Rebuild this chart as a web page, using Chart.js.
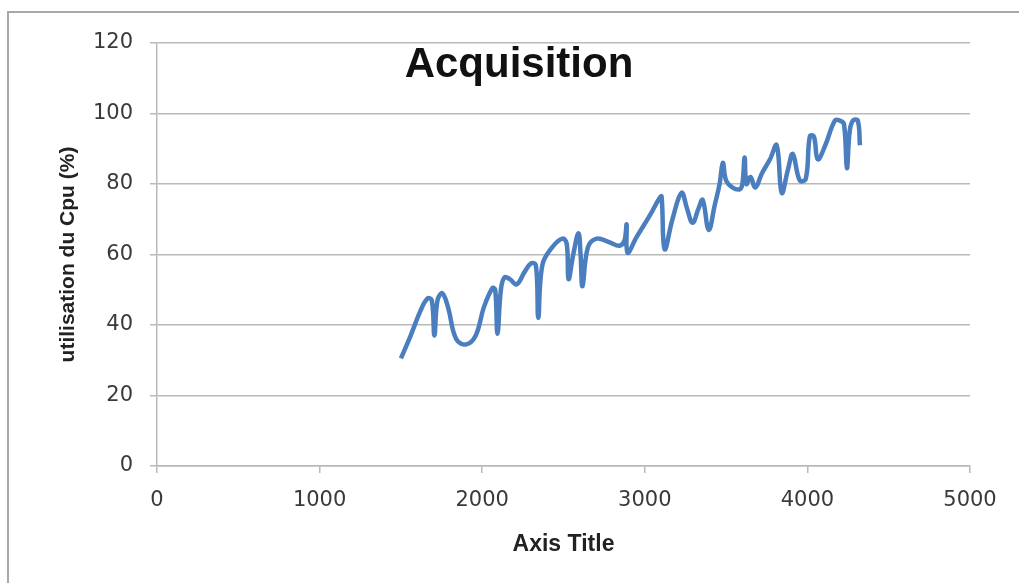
<!DOCTYPE html>
<html>
<head>
<meta charset="utf-8">
<script src="https://cdn.jsdelivr.net/npm/chart.js@4/dist/chart.umd.min.js"></script>
<style>
  html, body { margin: 0; padding: 0; background: #ffffff; overflow: hidden; width: 1019px; height: 583px; }
  #frame {
    position: absolute; left: 7px; top: 11px; width: 1100px; height: 700px;
    border-left: 2px solid #a8a8a8; border-top: 2px solid #a8a8a8;
    border-right: none; border-bottom: none;
    box-sizing: border-box; pointer-events: none;
  }
  #wrap { position: absolute; left: 0; top: 0; width: 1019px; height: 583px; overflow: hidden; }
</style>
</head>
<body>
<div id="wrap"><canvas id="cpu" width="1019" height="583"></canvas><div id="frame"></div></div>
<script>
// Elapsed time of the acquisition run and CPU load sampled at each step
const elapsed = [
  1500, 1560, 1620, 1663, 1690, 1706, 1725, 1755, 1790, 1840,
  1903, 1960, 2010, 2063, 2080, 2094, 2115, 2137, 2170, 2211,
  2260, 2300, 2330, 2345, 2370, 2430, 2494, 2520, 2531, 2560,
  2592, 2605, 2617, 2650, 2703, 2780, 2845, 2875, 2888, 2894,
  2950, 3030, 3090, 3103, 3122, 3170, 3226, 3260, 3294, 3330,
  3356, 3393, 3430, 3460, 3480, 3500, 3540, 3584, 3600, 3614,
  3625, 3650, 3680, 3720, 3770, 3811, 3842, 3880, 3910, 3953,
  3990, 4015, 4040, 4064, 4110, 4169, 4200, 4225, 4243, 4260,
  4280, 4310, 4323
];
const cpuLoad = [
  30.5, 37, 44, 47.5, 47, 37, 47, 49, 45, 36,
  34.5, 37, 45, 50.5, 50, 37.5, 50, 53.5, 53, 51.5,
  55, 57.5, 57, 42, 57, 62, 64.5, 63, 53, 60,
  66, 60, 51, 62, 64.5, 63.5, 62.5, 64, 68.5, 60.5,
  65, 71, 76, 76.5, 61.5, 70, 77.5, 73, 69, 73,
  75.5, 67, 74, 80, 86, 81, 79, 78.5, 80, 87.5,
  80, 82, 79, 83, 87, 91, 77.5, 84, 88.5, 81,
  81.5, 93.5, 93.5, 87, 91, 98, 98, 97, 84.5, 95,
  98, 98, 91
];
const xTicks = [0, 1000, 2000, 3000, 4000, 5000];
const yTicks = [0, 20, 40, 60, 80, 100, 120];

const chartTitle = 'Acquisition';
const xTitle = 'Axis Title';
const yTitle = 'utilisation du Cpu (%)';

const gridGray = '#b9b9b9';
const tickFont = { family: 'DejaVu Sans', size: 21 };

// Heading sits inside the plot area, near the top
const headingPlugin = {
  id: 'heading',
  afterDraw(chart) {
    const { ctx } = chart;
    ctx.save();
    ctx.font = 'bold 42px "Liberation Sans"';
    ctx.fillStyle = '#111111';
    ctx.textAlign = 'center';
    ctx.textBaseline = 'middle';
    ctx.fillText(chartTitle, 519, 65);
    ctx.restore();
  }
};

new Chart(document.getElementById('cpu'), {
  type: 'line',
  data: {
    datasets: [{
      data: elapsed.map((t, i) => ({ x: t, y: cpuLoad[i] })),
      borderColor: '#4a7ebf',
      borderWidth: 4.5,
      pointRadius: 0,
      tension: 0.4,
      fill: false
    }]
  },
  options: {
    responsive: false,
    animation: false,
    layout: { padding: { left: 0, top: 43, right: 49, bottom: 0 } },
    plugins: { legend: { display: false }, tooltip: { enabled: false } },
    scales: {
      x: {
        type: 'linear',
        min: xTicks[0],
        max: xTicks[xTicks.length - 1],
        afterBuildTicks(scale) { scale.ticks = xTicks.map(v => ({ value: v })); },
        afterFit(scale) { scale.height = 117; },
        grid: { drawOnChartArea: false, drawTicks: true, tickLength: 7, color: gridGray, lineWidth: 1.5 },
        border: { display: true, color: gridGray, width: 1.5 },
        ticks: { font: tickFont, color: '#3a3a3a', padding: 15, maxRotation: 0, callback: v => String(v) },
        title: {
          display: true, text: xTitle, color: '#222222',
          font: { family: 'Liberation Sans', size: 23, weight: 'bold' },
          padding: { top: 0, bottom: 25 }
        }
      },
      y: {
        min: yTicks[0],
        max: yTicks[yTicks.length - 1],
        afterBuildTicks(scale) { scale.ticks = yTicks.map(v => ({ value: v })); },
        afterFit(scale) { scale.width = 157; },
        grid: { drawOnChartArea: true, drawTicks: true, tickLength: 7, color: gridGray, lineWidth: 1.5 },
        border: { display: true, color: gridGray, width: 1.5 },
        ticks: { font: tickFont, color: '#3a3a3a', padding: 17, callback: v => String(v) },
        title: {
          display: true, text: yTitle, color: '#222222',
          font: { family: 'Liberation Sans', size: 21, weight: 'bold' },
          padding: { top: 56, bottom: 0 }
        }
      }
    }
  },
  plugins: [headingPlugin]
});
</script>
</body>
</html>
